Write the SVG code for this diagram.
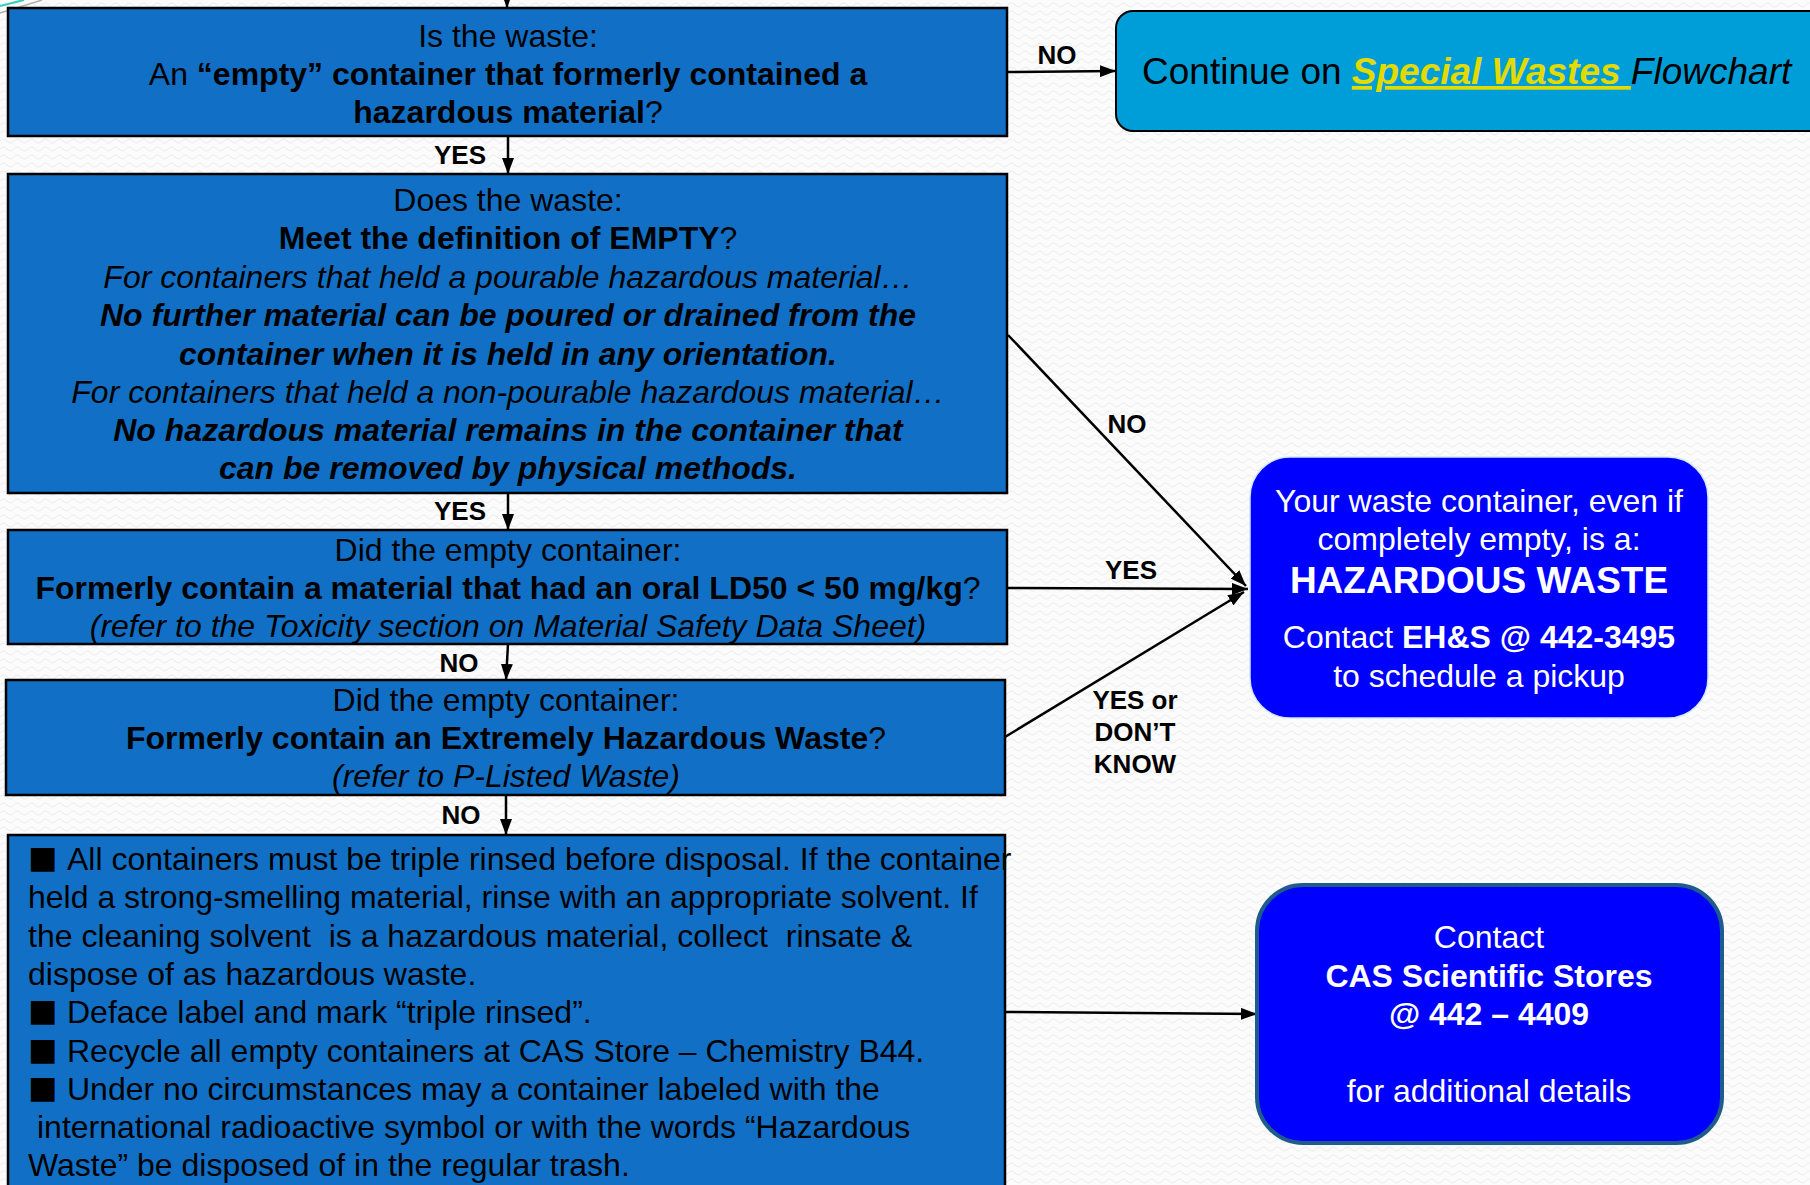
<svg xmlns="http://www.w3.org/2000/svg" width="1810" height="1185" viewBox="0 0 1810 1185">
<defs>
<pattern id="bgp" width="14" height="8" patternUnits="userSpaceOnUse">
<rect width="14" height="8" fill="#fbfbfb"/>
<path d="M0 5 Q3.5 1 7 5 T14 5" fill="none" stroke="#ebebeb" stroke-width="1"/>
</pattern>
<marker id="ah" markerUnits="userSpaceOnUse" markerWidth="16" markerHeight="12" refX="16" refY="6" orient="auto">
<path d="M0,0 L16,6 L0,12 z" fill="#000"/>
</marker>
<style>
.box{fill:#1170C6;stroke:#000;stroke-width:2.5}
.t{font-family:"Liberation Sans",Arial,sans-serif;font-size:32px;fill:#000}
.bul{font-family:"DejaVu Sans",sans-serif;font-size:31px;fill:#000}
.c{text-anchor:middle}
.b{font-weight:bold}
.i{font-style:italic}
.w{fill:#fff}
.lbl{font-family:"Liberation Sans",Arial,sans-serif;font-size:26px;font-weight:bold;text-anchor:middle;fill:#000}
.conn{stroke:#000;stroke-width:2.5;fill:none;marker-end:url(#ah)}
</style>
</defs>
<rect width="1810" height="1185" fill="url(#bgp)"/>
<line x1="0" y1="6" x2="24" y2="0" stroke="#2fd0b8" stroke-width="2"/>
<line x1="0" y1="13" x2="42" y2="0" stroke="#b0b0b0" stroke-width="1.5"/>

<g id="connectors">
<line class="conn" x1="507" y1="-10" x2="507" y2="8"/>
<line class="conn" x1="508" y1="136" x2="508" y2="174"/>
<line class="conn" x1="508" y1="493" x2="508" y2="530"/>
<line class="conn" x1="508" y1="644" x2="506" y2="680"/>
<line class="conn" x1="506" y1="795" x2="506" y2="835"/>
<line class="conn" x1="1007" y1="72" x2="1116" y2="71"/>
<line class="conn" x1="1008" y1="335" x2="1246" y2="586"/>
<line class="conn" x1="1007" y1="588" x2="1248" y2="589"/>
<line class="conn" x1="1005" y1="737" x2="1244" y2="592"/>
<line class="conn" x1="1005" y1="1012" x2="1257" y2="1014"/>
<text class="lbl" x="460" y="164">YES</text>
<text class="lbl" x="460" y="520">YES</text>
<text class="lbl" x="459" y="672">NO</text>
<text class="lbl" x="461" y="824">NO</text>
<text class="lbl" x="1057" y="64">NO</text>
<text class="lbl" x="1127" y="433">NO</text>
<text class="lbl" x="1131" y="579">YES</text>
<text class="lbl" x="1135" y="709">YES or</text>
<text class="lbl" x="1135" y="741">DON’T</text>
<text class="lbl" x="1135" y="773">KNOW</text>
</g>

<g id="q1">
<rect class="box" x="8" y="8" width="999" height="128"/>
<text class="t c" x="508" y="47">Is the waste:</text>
<text class="t c" x="508" y="85">An <tspan class="b">“empty” container that formerly contained a</tspan></text>
<text class="t c" x="508" y="123"><tspan class="b">hazardous material</tspan>?</text>
</g>

<g id="q2">
<rect class="box" x="8" y="174" width="999" height="319"/>
<text class="t c" x="508" y="211">Does the waste:</text>
<text class="t c" x="508" y="249"><tspan class="b">Meet the definition of EMPTY</tspan>?</text>
<text class="t c i" x="508" y="288">For containers that held a pourable hazardous material…</text>
<text class="t c b i" x="508" y="326">No further material can be poured or drained from the</text>
<text class="t c b i" x="508" y="365">container when it is held in any orientation.</text>
<text class="t c i" x="508" y="403">For containers that held a non-pourable hazardous material…</text>
<text class="t c b i" x="508" y="441">No hazardous material remains in the container that</text>
<text class="t c b i" x="508" y="479">can be removed by physical methods.</text>
</g>

<g id="q3">
<rect class="box" x="8" y="530" width="999" height="114"/>
<text class="t c" x="508" y="561">Did the empty container:</text>
<text class="t c" x="508" y="599"><tspan class="b">Formerly contain a material that had an oral LD50 &lt; 50 mg/kg</tspan>?</text>
<text class="t c i" x="508" y="637">(refer to the Toxicity section on Material Safety Data Sheet)</text>
</g>

<g id="q4">
<rect class="box" x="6" y="680" width="999" height="115"/>
<text class="t c" x="506" y="711">Did the empty container:</text>
<text class="t c" x="506" y="749"><tspan class="b">Formerly contain an Extremely Hazardous Waste</tspan>?</text>
<text class="t c i" x="506" y="787">(refer to P-Listed Waste)</text>
</g>

<g id="instructions">
<rect class="box" x="8" y="835" width="997" height="370"/>
<text class="bul" x="28" y="868">■</text>
<text class="t" x="67" y="870">All containers must be triple rinsed before disposal. If the container</text>
<text class="t" x="28" y="908">held a strong-smelling material, rinse with an appropriate solvent. If</text>
<text class="t" x="28" y="947" xml:space="preserve">the cleaning solvent  is a hazardous material, collect  rinsate &amp;</text>
<text class="t" x="28" y="985">dispose of as hazardous waste.</text>
<text class="bul" x="28" y="1021">■</text>
<text class="t" x="67" y="1023">Deface label and mark “triple rinsed”.</text>
<text class="bul" x="28" y="1060">■</text>
<text class="t" x="67" y="1062">Recycle all empty containers at CAS Store – Chemistry B44.</text>
<text class="bul" x="28" y="1098">■</text>
<text class="t" x="67" y="1100">Under no circumstances may a container labeled with the</text>
<text class="t" x="37" y="1138">international radioactive symbol or with the words “Hazardous</text>
<text class="t" x="28" y="1176">Waste” be disposed of in the regular trash.</text>
</g>

<g id="special">
<rect x="1116" y="11" width="720" height="120" rx="17" fill="#009ED8" stroke="#000" stroke-width="2"/>
<text class="t" x="1142" y="84" style="font-size:37px">Continue on <tspan class="b i" fill="#E3DA00" text-decoration="underline">Special Wastes </tspan><tspan class="i">Flowchart</tspan></text>
</g>

<g id="hazardous">
<rect x="1250" y="457" width="458" height="261" rx="40" fill="#0000FF" stroke="#cfe8ff" stroke-width="1.5"/>
<text class="t c w" x="1479" y="512">Your waste container, even if</text>
<text class="t c w" x="1479" y="550">completely empty, is a:</text>
<text class="t c w b" x="1479" y="593" style="font-size:37px">HAZARDOUS WASTE</text>
<text class="t c w" x="1479" y="648">Contact <tspan class="b">EH&amp;S @ 442-3495</tspan></text>
<text class="t c w" x="1479" y="687">to schedule a pickup</text>
</g>

<g id="cas">
<rect x="1257" y="885" width="465" height="258" rx="46" fill="#0000FF" stroke="#1F5C8C" stroke-width="4"/>
<text class="t c w" x="1489" y="948">Contact</text>
<text class="t c w b" x="1489" y="987">CAS Scientific Stores</text>
<text class="t c w b" x="1489" y="1025">@ 442 – 4409</text>
<text class="t c w" x="1489" y="1102">for additional details</text>
</g>
</svg>
